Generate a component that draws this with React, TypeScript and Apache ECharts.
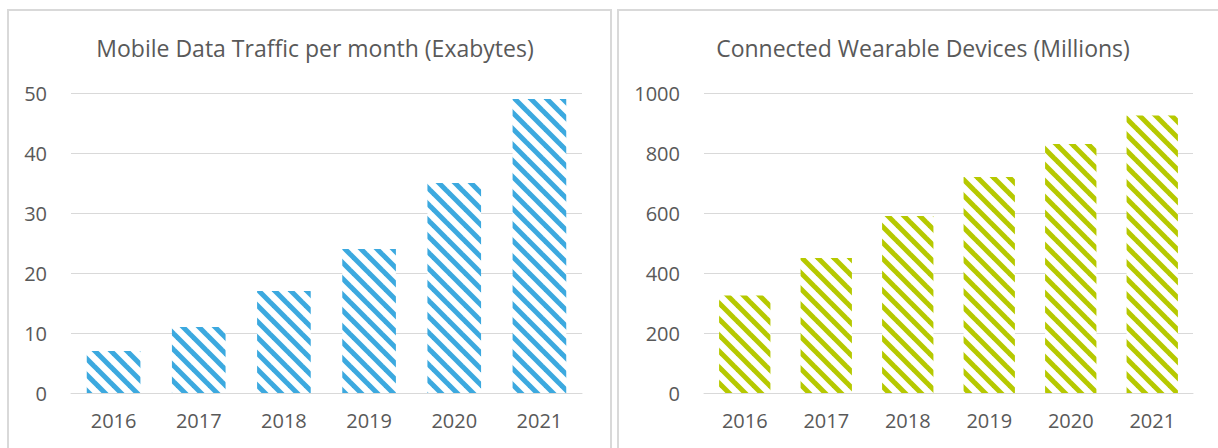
import React, { useEffect, useRef } from "react";
import * as echarts from "echarts";

const years = ["2016", "2017", "2018", "2019", "2020", "2021"];
const trafficValues = [7, 11, 17, 24, 35, 49];
const wearableValues = [325, 450, 590, 720, 830, 925];
const trafficTitle = "Mobile Data Traffic per month (Exabytes)";
const wearableTitle = "Connected Wearable Devices (Millions)";
const trafficAxis = { min: 0, max: 50, interval: 10 };
const wearableAxis = { min: 0, max: 1000, interval: 200 };

const BLUE = "#3CA9DF";
const LIME = "#B6C900";
const TEXT = "#595959";
const GRID = "#D9D9D9";
const FONT = "Open Sans";

function makePattern(color: string) {
  const P = 16;
  const c = document.createElement("canvas");
  c.width = P;
  c.height = P;
  const ctx = c.getContext("2d")!;
  ctx.fillStyle = "#ffffff";
  ctx.fillRect(0, 0, P, P);
  ctx.strokeStyle = color;
  ctx.lineWidth = 5;
  for (const x0 of [-P, 0, P]) {
    ctx.beginPath();
    ctx.moveTo(x0 - 2, -2);
    ctx.lineTo(x0 + P + 2, P + 2);
    ctx.stroke();
  }
  return { image: c.toDataURL(), repeat: "repeat", imageWidth: P, imageHeight: P } as any;
}

export default function App() {
  const ref = useRef<HTMLDivElement>(null);
  useEffect(() => {
    document.body.style.margin = "0";
    const chart = echarts.init(ref.current!, null, { renderer: "svg" });
    const xAxisCommon = {
      type: "category" as const,
      data: years,
      axisLine: { lineStyle: { color: GRID, width: 1 } },
      axisTick: { show: false },
      axisLabel: { color: TEXT, fontSize: 20, fontFamily: FONT, margin: 17 },
    };
    const yAxisCommon = {
      type: "value" as const,
      axisLine: { show: false },
      axisTick: { show: false },
      splitLine: { lineStyle: { color: GRID, width: 1 } },
      axisLabel: {
        color: TEXT,
        fontSize: 20,
        fontFamily: FONT,
        margin: 24,
        formatter: (v: number) => String(v),
      },
    };
    chart.setOption({
      animation: false,
      textStyle: { fontFamily: FONT },
      graphic: [
        {
          type: "rect",
          shape: { x: 8, y: 10, width: 603, height: 480 },
          style: { fill: "none", stroke: GRID, lineWidth: 2 },
          silent: true,
        },
        {
          type: "rect",
          shape: { x: 618, y: 10, width: 640, height: 480 },
          style: { fill: "none", stroke: GRID, lineWidth: 2 },
          silent: true,
        },
      ],
      title: [
        {
          text: trafficTitle,
          left: 310,
          top: 31,
          textAlign: "center",
          textStyle: { color: TEXT, fontSize: 23, fontWeight: "normal", fontFamily: FONT },
        },
        {
          text: wearableTitle,
          left: 918,
          top: 31,
          textAlign: "center",
          textStyle: { color: TEXT, fontSize: 23, fontWeight: "normal", fontFamily: FONT },
        },
      ],
      grid: [
        { left: 71, right: 636, top: 93, bottom: 55 },
        { left: 704, right: 25, top: 93, bottom: 55 },
      ],
      xAxis: [
        { ...xAxisCommon, gridIndex: 0 },
        { ...xAxisCommon, gridIndex: 1 },
      ],
      yAxis: [
        { ...yAxisCommon, gridIndex: 0, ...trafficAxis },
        { ...yAxisCommon, gridIndex: 1, ...wearableAxis },
      ],
      series: [
        {
          type: "bar",
          xAxisIndex: 0,
          yAxisIndex: 0,
          data: trafficValues,
          barCategoryGap: "37%",
          itemStyle: { color: makePattern(BLUE) },
        },
        {
          type: "bar",
          xAxisIndex: 1,
          yAxisIndex: 1,
          data: wearableValues,
          barCategoryGap: "37%",
          itemStyle: { color: makePattern(LIME) },
        },
      ],
    });
    return () => chart.dispose();
  }, []);
  return <div ref={ref} style={{ width: 1218, height: 448 }} />;
}
